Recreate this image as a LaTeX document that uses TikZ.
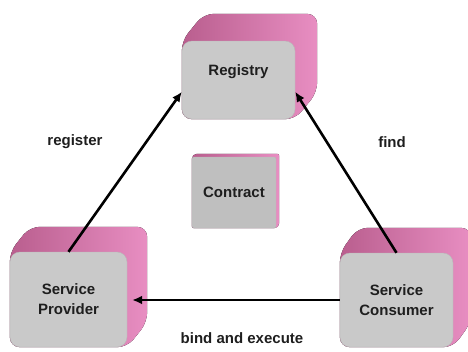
\documentclass[tikz,border=0pt]{standalone}
\usepackage{fontspec}
\setmainfont{Liberation Sans}
\usetikzlibrary{arrows.meta,calc,backgrounds}
\definecolor{Face}{HTML}{C9C9C9}
\definecolor{FaceEdge}{HTML}{B9B9B9}
\definecolor{PinkDark}{HTML}{B95E8E}
\definecolor{PinkLight}{HTML}{E88EC2}
\definecolor{Ink}{HTML}{1E1E1E}

\begin{document}
\begin{tikzpicture}[
    x=1pt, y=-1pt,
    face/.style={
      fill=Face, draw=FaceEdge, rounded corners=10pt, inner sep=0pt,
      align=center, text=Ink,
      font=\fontsize{15}{20}\selectfont\bfseries
    },
    lbl/.style={text=Ink, font=\fontsize{15}{18}\selectfont\bfseries},
    arr/.style={-{Latex[length=10pt,width=9pt]}, line width=2.6pt, draw=black}
  ]
    \useasboundingbox (0,0) rectangle (468,351);

    \node[face, minimum width=113pt, text height=34pt, text depth=44pt] (registry) at (238.5,80) {Registry};
    \node[face, minimum width=117pt, minimum height=95pt] (provider) at (68.5,299.5) {Service\\Provider};
    \node[face, minimum width=113pt, minimum height=94pt] (consumer) at (396.5,300) {Service\\Consumer};
    \node[face, fill=Face!95!black, rounded corners=2pt, minimum width=84pt, minimum height=71pt] (contract) at (234,192.5) {Contract};

    % pink depth behind the faces
    \begin{scope}[on background layer]
      \foreach \n/\d/\e/\r in {registry/22/27/10, provider/20/25/10, consumer/18/25/10, contract/3/3/2}
        \fill[left color=PinkDark, right color=PinkLight, rounded corners=\r pt]
          (\n.north west) -- ++(\d,-\e) -- ($(\n.north east)+(\d,-\e)$)
          -- ($(\n.south east)+(\d,-\e)$) -- (\n.south east) -- (\n.south west) -- cycle;
    \end{scope}

    \node[lbl] (register) at (75,142) {register};
    \node[lbl] (find) at (392,142) {find};
    \node[lbl] (bind) at (242,338) {bind and execute};

    \draw[arr] (provider.north) -- ($(registry.west)!0.3!(registry.south west)$);
    \draw[arr] (consumer.north) -- ($(registry.east)!0.3!(registry.south east)$);
    \draw[arr, shorten >=5pt] (consumer.west) -- (consumer.west -| provider.east);
  \end{tikzpicture}
\end{document}
